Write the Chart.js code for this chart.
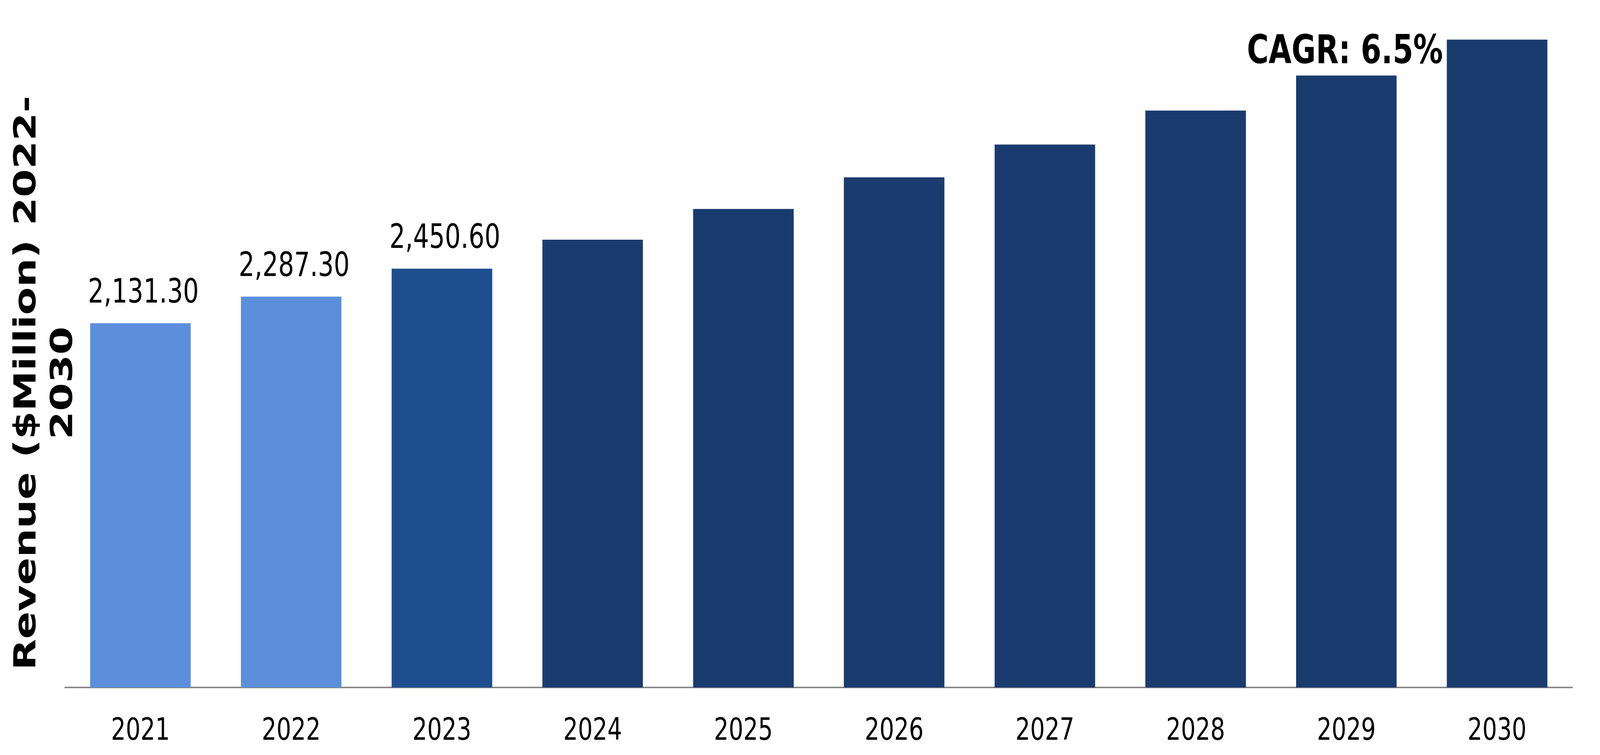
<!DOCTYPE html>
<html>
<head>
<meta charset="utf-8">
<script src="https://cdn.jsdelivr.net/npm/chart.js@4.4.1/dist/chart.umd.min.js"></script>
<style>
  html, body { margin: 0; padding: 0; background: #ffffff; overflow: hidden; }
  #revenueChart { display: block; }
</style>
</head>
<body>
<canvas id="revenueChart" width="5459" height="1934" style="width: 100vw; height: 100vh;"></canvas>
<script>
const years = ["2021", "2022", "2023", "2024", "2025", "2026", "2027", "2028", "2029", "2030"];
const revenue = [2131.3, 2287.3, 2450.6, 2620, 2800, 2985, 3177, 3376, 3581, 3791];
const barColors = [
  "#5B8FDC", "#5B8FDC", // history
  "#1F4E90",            // base year
  "#1A3B6E", "#1A3B6E", "#1A3B6E", "#1A3B6E", "#1A3B6E", "#1A3B6E", "#1A3B6E" // forecast
];
const labelledBars = 3; // only the first bars show their value
const cagrText = "CAGR: 6.5%";
const axisTitle = ["Revenue ($Million) 2022-", "2030"];

const FONT = "'DejaVu Sans', Verdana, sans-serif";

// year labels, value labels, CAGR note and the y-axis title
const annotations = {
  id: "annotations",
  afterDatasetsDraw(chart) {
    const ctx = chart.ctx;
    const bars = chart.getDatasetMeta(0).data;
    const xScale = chart.scales.x;
    ctx.save();
    ctx.fillStyle = "#000000";
    ctx.textAlign = "center";
    ctx.textBaseline = "alphabetic";

    // category labels under the axis
    ctx.font = "79px " + FONT;
    years.forEach((y, i) => {
      ctx.fillText(y, xScale.getPixelForTick(i), chart.chartArea.bottom + 134);
    });

    ctx.font = "85px " + FONT;
    for (let i = 0; i < labelledBars; i++) {
      const txt = revenue[i].toLocaleString("en-US", { minimumFractionDigits: 2, maximumFractionDigits: 2 });
      ctx.fillText(txt, bars[i].x + 10, bars[i].y - 53);
    }

    ctx.font = "bold 101px " + FONT;
    ctx.fillText(cagrText, bars[8].x - 5, 162);

    // two-line rotated y title
    ctx.font = "bold 104px " + FONT;
    [121, 246].forEach((bx, i) => {
      ctx.save();
      ctx.translate(bx, 981);
      ctx.rotate(-Math.PI / 2);
      ctx.fillText(axisTitle[i], 0, 0);
      ctx.restore();
    });
    ctx.restore();
  }
};

const ctx = document.getElementById("revenueChart").getContext("2d");

new Chart(ctx, {
  type: "bar",
  data: {
    labels: years,
    datasets: [
      {
        data: revenue,
        backgroundColor: barColors,
        borderWidth: 0,
        categoryPercentage: 1.0,
        barPercentage: 0.667,
      },
    ],
  },
  options: {
    responsive: false,
    devicePixelRatio: 1,
    animation: false,
    layout: {
      padding: { left: 222, right: 94, top: 10, bottom: 173 },
    },
    plugins: {
      legend: { display: false },
      tooltip: { enabled: false },
    },
    scales: {
      x: {
        grid: { display: false, drawTicks: false },
        border: { display: true, color: "#898989", width: 4 },
        ticks: { display: false },
      },
      y: {
        display: false,
        min: 0,
        max: 4000,
      },
    },
  },
  plugins: [annotations],
});
</script>
</body>
</html>
